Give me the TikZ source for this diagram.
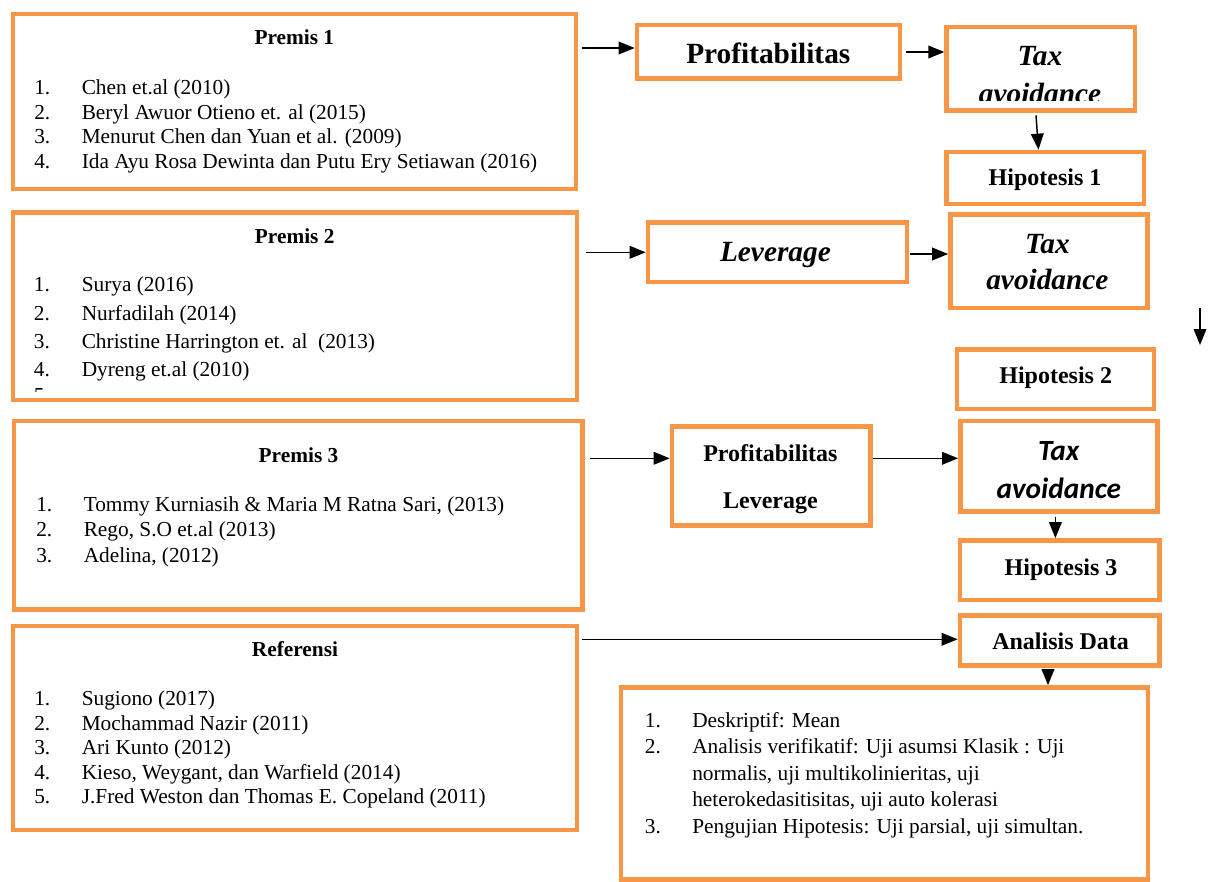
\documentclass[tikz,border=0pt]{standalone}
\usepackage{fontspec}
\setmainfont{Liberation Serif}
\newfontfamily\carlito{Carlito}
\usetikzlibrary{arrows.meta,fit,calc}
\definecolor{boxorange}{HTML}{F79646}
\tikzset{
  box/.style={draw=boxorange, line width=3.5pt, fill=white, inner sep=0pt},
  arr/.style={line width=1.1pt, -{Triangle[length=12pt,width=9.5pt]}},
  body/.style={anchor=base west, inner sep=0pt, font=\fontsize{16}{19}\selectfont},
  ttl/.style={anchor=base, inner sep=0pt, font=\fontsize{16}{19}\selectfont\bfseries},
  big/.style={anchor=base, inner sep=0pt, font=\fontsize{22}{26}\selectfont\bfseries},
  bigit/.style={anchor=base, inner sep=0pt, font=\fontsize{22}{26}\selectfont\bfseries\itshape},
  sansit/.style={anchor=base, inner sep=0pt, font=\fontsize{22}{26}\selectfont\carlito\bfseries\itshape},
  hip/.style={anchor=base, inner sep=0pt, font=\fontsize{18}{22}\selectfont\bfseries},
}
\begin{document}
\begin{tikzpicture}[x=0.75pt,y=-0.75pt]
\useasboundingbox[fill=white] (0,0) rectangle (1208,882);

% ---------- boxes ----------
\node[box, fit={(13,14) (576,189)}] (p1) {};
\node[box, fit={(13,212.5) (577,400)}] (p2) {};
\node[box, fit={(14,421) (582.5,609.5)}] (p3) {};
\node[box, fit={(13,626) (577,830)}] (ref) {};
\node[box, fit={(637,25) (900,78.5)}] (prof) {};
\node[box, fit={(946.7,27) (1135,110.5)}] (ta1) {};
\node[box, fit={(946.7,152) (1144,204)}] (hip1) {};
\node[box, fit={(648,222.7) (907,282)}] (lev) {};
\node[box, fit={(950.5,214.7) (1147.5,308)}] (ta2) {};
\node[box, fit={(957,349.7) (1154,409)}] (hip2) {};
\node[box, fit={(672,426.5) (870.6,525.3)}] (pl) {};
\node[box, fit={(960.4,421) (1157.3,511.7)}] (ta3) {};
\node[box, fit={(960,540.5) (1159.5,600)}] (hip3) {};
\node[box, fit={(960,615.5) (1159.5,665.3)}] (ad) {};
\node[box, fit={(621,687.5) (1148,879.5)}] (bot) {};

% ---------- Premis 1 ----------
\node[ttl] (p1title) at (294.3,44) {Premis 1};
\foreach \yy/\txt [count=\k] in {94/{Chen et.al (2010)},
  119/{Beryl Awuor Otieno et. al (2015)},
  143/{Menurut Chen dan Yuan et al. (2009)},
  168/{Ida Ayu Rosa Dewinta dan Putu Ery Setiawan (2016)}}{
  \node[body] (p1n\k) at (34,\yy) {\k.};
  \node[body] (p1t\k) at (81.5,\yy) {\txt};
}

% ---------- Premis 2 ----------
\node[ttl] (p2title) at (294.7,243.3) {Premis 2};
\foreach \yy/\txt [count=\k] in {291.7/{Surya (2016)},
  320/{Nurfadilah (2014)},
  348.3/{Christine Harrington et. al\ \ (2013)},
  376/{Dyreng et.al (2010)}}{
  \node[body] (p2n\k) at (33.7,\yy) {\k.};
  \node[body] (p2t\k) at (81.5,\yy) {\txt};
}
\begin{scope}
  \clip (20,380) rectangle (120,391);
  \node[body] (p2n5) at (33.7,402) {5.};
\end{scope}

% ---------- Premis 3 ----------
\node[ttl] (p3title) at (298.5,462.7) {Premis 3};
\foreach \yy/\txt [count=\k] in {511/{Tommy Kurniasih \& Maria M Ratna Sari, (2013)},
  536/{Rego, S.O et.al (2013)},
  562/{Adelina, (2012)}}{
  \node[body] (p3n\k) at (36,\yy) {\k.};
  \node[body] (p3t\k) at (83.5,\yy) {\txt};
}

% ---------- Referensi ----------
\node[ttl] (reftitle) at (295,656.7) {Referensi};
\foreach \yy/\txt [count=\k] in {705.7/{Sugiono (2017)},
  730/{Mochammad Nazir (2011)},
  754/{Ari Kunto (2012)},
  779/{Kieso, Weygant, dan Warfield (2014)},
  803.3/{J.Fred Weston dan Thomas E. Copeland (2011)}}{
  \node[body] (refn\k) at (34,\yy) {\k.};
  \node[body] (reft\k) at (81.5,\yy) {\txt};
}

% ---------- right column texts ----------
\node[big] (proftxt) at (768.3,63.3) {Profitabilitas};
\node[bigit] (ta1a) at (1040,65) {Tax};
\begin{scope}
  \clip (946.7,27) rectangle (1135,100.5);
  \node[bigit] (ta1b) at (1040,103) {avoidance};
\end{scope}
\node[hip] (hip1txt) at (1045,185) {Hipotesis 1};

\node[bigit] (levtxt) at (775.4,261.7) {Leverage};
\node[bigit] (ta2a) at (1047.4,253.3) {Tax};
\node[bigit] (ta2b) at (1047.4,289.3) {avoidance};
\node[hip] (hip2txt) at (1055.7,383.3) {Hipotesis 2};

\node[hip] (pla) at (770.4,461.7) {Profitabilitas};
\node[hip] (plb) at (770.4,508) {Leverage};
\node[sansit] (ta3a) at (1058.8,460.7) {Tax};
\node[sansit] (ta3b) at (1058.8,498.3) {avoidance};
\node[hip] (hip3txt) at (1061,575) {Hipotesis 3};
\node[hip] (adtxt) at (1060.6,649.3) {Analisis Data};

% ---------- bottom box list ----------
\node[body] (bn1) at (644.6,727.3) {1.};
\node[body] (bt1) at (692,727.3) {Deskriptif: Mean};
\node[body] (bn2) at (644.6,753.3) {2.};
\node[body] (bt2) at (692,753.3) {Analisis verifikatif: Uji asumsi Klasik : Uji};
\node[body] (bt2b) at (692,780) {normalis, uji multikolinieritas, uji};
\node[body] (bt2c) at (692,806.7) {heterokedasitisitas, uji auto kolerasi};
\node[body] (bn3) at (644.6,833.3) {3.};
\node[body] (bt3) at (692,833.3) {Pengujian Hipotesis: Uji parsial, uji simultan.};

% ---------- connectors ----------
\draw[arr] ($(p1.east |- 0,48)+(4,0)$) -- (prof.west |- 0,48);
\draw[arr] ($(prof.east |- 0,52)+(3.5,0)$) -- (ta1.west |- 0,52);
\draw[arr] ($(ta1.south -| 1036,0)+(0,2.5)$) -- (hip1.north -| 1038.5,0);
\draw[arr] ($(p2.east |- 0,252.3)+(7,0)$) -- (lev.west |- 0,252.3);
\draw[arr] ($(lev.east |- 0,254)+(1,0)$) -- (ta2.west |- 0,254);
\coordinate (lone1) at (1200,308);
\coordinate (lone2) at (1200,345);
\draw[arr] (lone1) -- (lone2);
\draw[arr] ($(p3.east |- 0,458.3)+(5.5,0)$) -- (pl.west |- 0,458.3);
\draw[arr] ($(pl.east |- 0,458.3)+(0,0)$) -- (ta3.west |- 0,458.3);
\draw[arr] ($(ta3.south -| 1055.4,0)+(0,2.5)$) -- (hip3.north -| 1055.4,0);
\draw[arr] ($(ref.east |- 0,639.3)+(2.5,0)$) -- (ad.west |- 0,639.3);
\draw[arr] ($(ad.south -| 1048,0)+(0,2.5)$) -- (bot.north -| 1048,0);
\end{tikzpicture}
\end{document}
